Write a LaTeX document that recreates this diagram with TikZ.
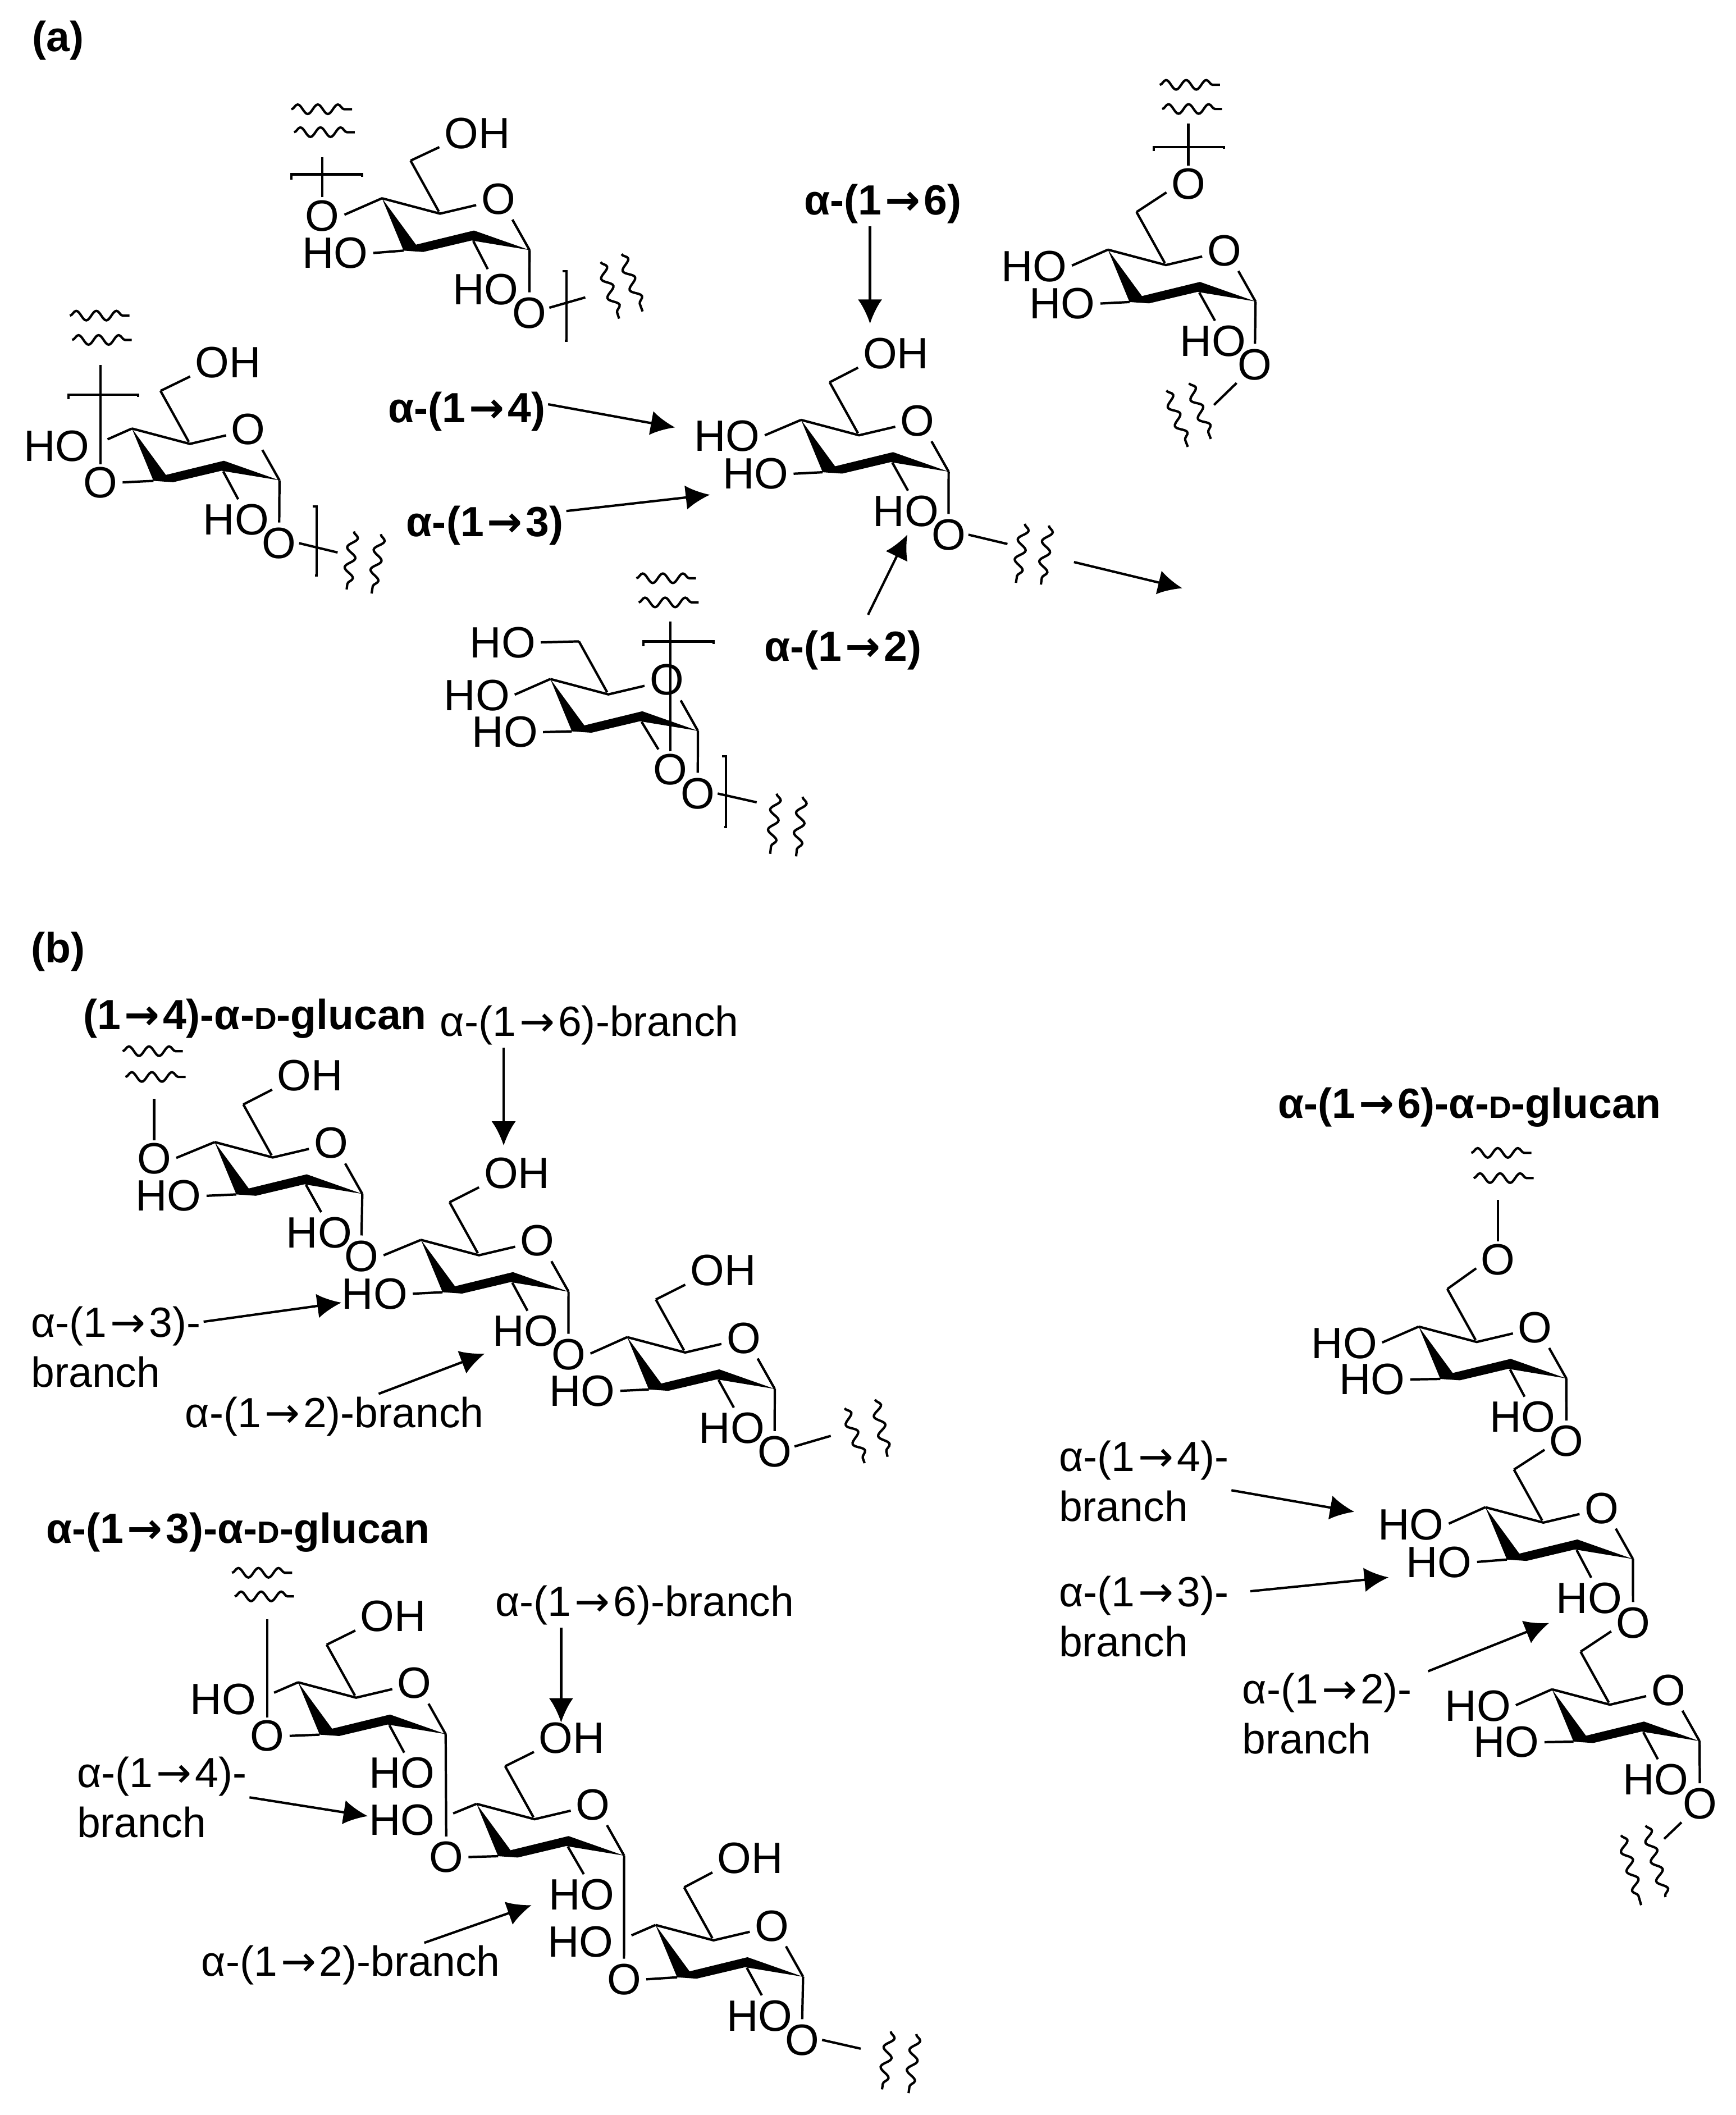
\documentclass[tikz,border=0pt]{standalone}
\usepackage{fontspec}
\setmainfont{Liberation Sans}
\newfontfamily\arrowglyph{DejaVu Sans}
\usetikzlibrary{arrows.meta,decorations.pathmorphing}
\tikzset{
  atom/.style={font=\fontsize{18.5}{20}\selectfont, inner sep=1pt, yshift=-0.4pt},
  grouplabel/.style={font=\fontsize{17.8}{21}\selectfont\bfseries, inner sep=1pt},
  branchlabel/.style={font=\fontsize{17.8}{21}\selectfont, inner sep=1pt, align=left},
  bond/.style={line width=1pt, shorten >=1pt},
  wavy/.style={line width=1pt, decorate, decoration={snake, amplitude=2pt, segment length=8.5pt, pre length=0pt, post length=0pt}},
  linkarrow/.style={line width=1pt, -{Latex[length=0.36cm,width=0.36cm]}},
  crossgap/.style={shorten >=7pt},
  pics/glcring/.style={code={
    \coordinate (-c5) at (0,0);
    \coordinate (-c4) at (-43,-11.4);
    \coordinate (-c3) at (-27,27.4);
    \coordinate (-c2) at (24.7,20.4);
    \coordinate (-c1) at (66.4,27);
    \coordinate (-c6) at (-21.8,-39.3);
    \node[atom] (-o5) at (43.3,-11.4) {O};
    \fill (-c4) -- (-17.8,23) -- (25.2,12.5) -- (-c1) -- (23.4,19.9) -- (-12.5,28.4) -- (-c3) -- cycle;
    \draw[bond] (-c4) -- (-c5) -- (-o5.195);
    \draw[bond] (-c1) -- (-o5.-55);
    \draw[bond] (-c6) -- (-c5);
  }}
}
\newcommand{\smalld}{{\fontsize{13}{13}\selectfont D}}
\newcommand{\linkto}{\hspace{.08em}{\arrowglyph→}\hspace{.08em}}
\begin{document}
\begin{tikzpicture}[x=0.02cm,y=-0.02cm]
\useasboundingbox (0,0) rectangle (1287,1568);
% panel letters
\node[grouplabel] (pa) at (43,30) {(a)};
\node[grouplabel] (pb) at (43,705.5) {(b)};
% rings of panel a
\pic (a1) at (326.2,158.4) {glcring};
\node[atom] (a1o6) at (353.8,98) {OH};
\node[atom] (a1o4) at (239,159.2) {O};
\node[atom] (a1o3) at (248.5,187) {HO};
\node[atom] (a1o2) at (360,214) {HO};
\node[atom] (a1o1) at (392.5,231.4) {O};
\pic (a2) at (140.8,329.1) {glcring};
\node[atom] (a2o6) at (169,268) {OH};
\node[atom] (a2o4) at (42,330) {HO};
\node[atom] (a2o3) at (74.4,357) {O};
\node[atom] (a2o2) at (175,384.6) {HO};
\node[atom] (a2o1) at (207,402) {O};
\pic (a3) at (636.9,322.7) {glcring};
\node[atom] (a3o6) at (664.2,261.4) {OH};
\node[atom] (a3o4) at (538.9,322.7) {HO};
\node[atom] (a3o3) at (560.1,350.6) {HO};
\node[atom] (a3o2) at (671.6,378.2) {HO};
\node[atom] (a3o1) at (703.2,395.7) {O};
\pic (a4) at (451,514.8) {glcring};
\node[atom] (a4o6) at (372.7,475.6) {HO};
\node[atom] (a4o4) at (353.5,515) {HO};
\node[atom] (a4o3) at (374.3,542.1) {HO};
\node[atom] (a4o2) at (496.9,570) {O};
\node[atom] (a4o1) at (517.3,587.6) {O};
\pic (a5) at (864.4,196.5) {glcring};
\node[atom] (a5o6) at (881,135.6) {O};
\node[atom] (a5o4) at (766.6,196.9) {HO};
\node[atom] (a5o3) at (787.6,224.4) {HO};
\node[atom] (a5o2) at (899.2,252.2) {HO};
\node[atom] (a5o1) at (930.4,269.6) {O};
% 1-4 chain
\pic (f1) at (202.2,858.1) {glcring};
\node[atom] (f1o6) at (229.8,796.7) {OH};
\node[atom] (f1o4) at (114.3,858.4) {O};
\node[atom] (f1o3) at (124.9,885.9) {HO};
\node[atom] (f1o2) at (236.6,913.1) {HO};
\node[atom, alias=f2o4] (f1o1) at (268,930.6) {O};
\pic (f2) at (355.1,930.6) {glcring};
\node[atom] (f2o6) at (383.2,869.1) {OH};
\node[atom] (f2o3) at (277.8,958.5) {HO};
\node[atom] (f2o2) at (389.5,986.2) {HO};
\node[atom, alias=f3o4] (f2o1) at (421.4,1003.5) {O};
\pic (f3) at (508,1002.7) {glcring};
\node[atom] (f3o6) at (536.1,941.3) {OH};
\node[atom] (f3o3) at (431.6,1030.5) {HO};
\node[atom] (f3o2) at (542.5,1058) {HO};
\node[atom] (f3o1) at (574.3,1075.6) {O};
% 1-3 chain
\pic (t1) at (264,1258.6) {glcring};
\node[atom] (t1o6) at (291.5,1197.7) {OH};
\node[atom] (t1o4) at (165.4,1259.1) {HO};
\node[atom] (t1o3) at (198.2,1286.3) {O};
\node[atom] (t1o2) at (298.1,1313.8) {HO};
\node[atom, alias=t2o3] (t1o1) at (330.8,1376.1) {O};
\pic (t2) at (396.3,1348.7) {glcring};
\node[atom] (t2o6) at (423.9,1287.7) {OH};
\node[atom] (t2o4) at (298.1,1348.4) {HO};
\node[atom] (t2o2) at (431.3,1403.9) {HO};
\node[atom, alias=t3o3] (t2o1) at (462.6,1466.8) {O};
\pic (t3) at (529,1438.5) {glcring};
\node[atom] (t3o6) at (556.2,1377) {OH};
\node[atom] (t3o4) at (430.4,1439) {HO};
\node[atom] (t3o2) at (563.2,1493.7) {HO};
\node[atom] (t3o1) at (594.7,1511.6) {O};
% 1-6 chain
\pic (s1) at (1094.8,994.9) {glcring};
\node[atom] (s1o6) at (1110.6,933.2) {O};
\node[atom] (s1o4) at (996.6,995.3) {HO};
\node[atom] (s1o3) at (1017.3,1022) {HO};
\node[atom] (s1o2) at (1128.7,1049.9) {HO};
\node[atom, alias=s2o6] (s1o1) at (1161.3,1067.8) {O};
\pic (s2) at (1144.2,1128.8) {glcring};
\node[atom] (s2o4) at (1046,1129.6) {HO};
\node[atom] (s2o3) at (1066.8,1157.4) {HO};
\node[atom] (s2o2) at (1178.1,1184.1) {HO};
\node[atom, alias=s3o6] (s2o1) at (1210.7,1202.4) {O};
\pic (s3) at (1193.6,1263.8) {glcring};
\node[atom] (s3o4) at (1095.7,1264.2) {HO};
\node[atom] (s3o3) at (1116.8,1290.9) {HO};
\node[atom] (s3o2) at (1227.5,1318.7) {HO};
\node[atom] (s3o1) at (1260.2,1336.7) {O};
% bonds to the atoms
\foreach \gl in {a1,a2,a3,a4,a5,f1,f2,f3,t1,t2,t3,s1,s2,s3}{
  \draw[bond] (\gl-c3) -- (\gl o3.east);
  \draw[bond] (\gl-c1) -- (\gl o1.north);
}
\foreach \gl in {a1,a2,a3,a5,f1,f2,f3,t1,t2,t3,s1,s2,s3}{
  \draw[bond] (\gl-c2) -- (\gl o2.80);
}
\foreach \gl in {a1,a3,a4,a5,f1,f2,f3,s1,s2,s3}{
  \draw[bond] (\gl-c4) -- (\gl o4.east);
}
\foreach \gl in {a2,t1,t2,t3}{
  \draw[bond,crossgap] (\gl-c4) -- (\gl o4.east);
}
\foreach \gl in {a1,a2,a3,a5,f1,f2,f3,t1,t2,t3,s1,s2,s3}{
  \draw[bond] (\gl-c6) -- (\gl o6.200);
}
\draw[bond] (a4-c6) -- (a4o6.east);
\draw[bond] (a4-c2) -- (a4o2.120);
% chain ends
\coordinate (a1up) at (239,114.6);
\coordinate (a1out) at (435.6,220);
\draw[bond] (a1o4.north) -- (a1up);
\draw[bond] (a1o1.15) -- (a1out);
\draw[bond] (216,133) -- (216,129.2) -- (268.6,129.2) -- (268.6,133);
\draw[bond] (417,201) -- (420,201) -- (420,252.7) -- (417,252.7);
\draw[wavy] (216,81) -- (261,81);
\draw[wavy] (218,98) -- (263,98);
\draw[wavy] (445.3,194.3) -- (459,236.2);
\draw[wavy] (460.8,188.4) -- (476.4,230.9);
\coordinate (a2up) at (74.4,269);
\coordinate (a2out) at (252,410);
\draw[bond] (a2o3.north) -- (a2up);
\draw[bond] (a2o1.east) -- (a2out);
\draw[bond] (50.7,296) -- (50.7,292.5) -- (102.5,292.5) -- (102.5,296);
\draw[bond] (231.7,375.3) -- (234.7,375.3) -- (234.7,426.6) -- (231.7,426.6);
\draw[wavy] (51.8,234) -- (96,234);
\draw[wavy] (53.5,252) -- (97.7,252);
\draw[wavy] (262.4,394) -- (257,437);
\draw[wavy] (282.4,396) -- (275.5,440);
\coordinate (a3out) at (748.6,403.7);
\draw[bond] (a3o1.east) -- (a3out);
\draw[wavy] (759.8,388.3) -- (753.2,432.1);
\draw[wavy] (777.6,389.6) -- (771.7,433.4);
\coordinate (a4up) at (496.9,459);
\coordinate (a4out) at (562.7,595.2);
\draw[bond] (a4o2.north) -- (a4up);
\draw[bond] (a4o1.east) -- (a4out);
\draw[bond] (477,479) -- (477,475.6) -- (529.2,475.6) -- (529.2,479);
\draw[bond] (535.3,560.8) -- (538.3,560.8) -- (538.3,613) -- (535.3,613);
\draw[wavy] (471.8,428.7) -- (516,428.7);
\draw[wavy] (473.5,446.6) -- (518,446.6);
\draw[wavy] (575.8,588.4) -- (571,633);
\draw[wavy] (595,590.7) -- (590.2,634.9);
\coordinate (a5up) at (881,90);
\coordinate (a5out) at (898.8,301.4);
\draw[bond] (a5o6.north) -- (a5up);
\draw[bond] (a5o1.-135) -- (a5out);
\draw[bond] (855.5,112) -- (855.5,108.9) -- (907.5,108.9) -- (907.5,112);
\draw[wavy] (859.8,62.9) -- (904.4,62.9);
\draw[wavy] (861.6,80.8) -- (906,80.8);
\draw[wavy] (864.8,289.5) -- (880.6,331.3);
\draw[wavy] (881.5,284.1) -- (897.7,325.4);
\coordinate (f1up) at (114.3,812.7);
\coordinate (f3out) at (617.6,1064);
\draw[bond] (f1o4.north) -- (f1up);
\draw[bond] (f3o1.15) -- (f3out);
\draw[wavy] (90.9,779.3) -- (135.5,779.3);
\draw[wavy] (93,798.4) -- (137.6,798.4);
\draw[wavy] (626.2,1044) -- (641,1084.7);
\draw[wavy] (648.7,1037.6) -- (658,1080);
\coordinate (t1up) at (198.2,1198.5);
\coordinate (t3out) at (639.8,1519.2);
\draw[bond] (t1o3.north) -- (t1up);
\draw[bond] (t3o1.east) -- (t3out);
\draw[wavy] (172,1166) -- (216.6,1166);
\draw[wavy] (174,1183.5) -- (218,1183.5);
\draw[wavy] (660.4,1506) -- (653.9,1549);
\draw[wavy] (679.3,1508) -- (673.6,1551.8);
\coordinate (s1up) at (1110.6,887.8);
\coordinate (s3out) at (1232.5,1364.5);
\draw[bond] (s1o6.north) -- (s1up);
\draw[bond] (s3o1.-135) -- (s3out);
\draw[wavy] (1090.8,854.7) -- (1135.3,854.7);
\draw[wavy] (1092.5,873.4) -- (1137,873.4);
\draw[wavy] (1201.8,1360.6) -- (1216.7,1412.4);
\draw[wavy] (1220,1353.4) -- (1234.8,1406.4);
% labels of panel a
\node[grouplabel] (l16) at (654.5,151) {α-(1\linkto 6)};
\node[grouplabel] (l14) at (346,305) {α-(1\linkto 4)};
\node[grouplabel] (l13) at (359.5,389.5) {α-(1\linkto 3)};
\node[grouplabel] (l12) at (624.9,481.9) {α-(1\linkto 2)};
\coordinate (t16) at (645,240);
\coordinate (t14) at (500.5,316.9);
\coordinate (t13) at (526.4,366.8);
\coordinate (t12) at (672.7,396.3);
\coordinate (gofrom) at (796.2,416.7);
\coordinate (goto) at (876.6,436.1);
\draw[linkarrow] (l16.south -| t16) -- (t16);
\draw[linkarrow] (l14.5) -- (t14);
\draw[linkarrow] (l13.10) -- (t13);
\draw[linkarrow,shorten <=6pt] (l12.50) -- (t12);
\draw[linkarrow] (gofrom) -- (goto);
% labels of panel b
\node[grouplabel] (f0) at (189,755) {(1\linkto 4)-α-\smalld-glucan};
\node[branchlabel] (f16) at (437,760) {α-(1\linkto 6)-branch};
\node[branchlabel,anchor=west] (f13) at (21,998.5) {α-(1\linkto 3)-\\branch};
\node[branchlabel] (f12) at (248,1050) {α-(1\linkto 2)-branch};
\coordinate (tf16) at (373.4,849.3);
\coordinate (tf13) at (253.2,965.7);
\coordinate (tf12) at (359.4,1003.5);
\draw[linkarrow] (f16.south -| tf16) -- (tf16);
\draw[linkarrow] (f13.16) -- (tf13);
\draw[linkarrow] (f12.27) -- (tf12);
\node[grouplabel] (t0) at (176.5,1136) {α-(1\linkto 3)-α-\smalld-glucan};
\node[branchlabel] (t16) at (478,1190) {α-(1\linkto 6)-branch};
\node[branchlabel,anchor=west] (t14) at (55,1332.5) {α-(1\linkto 4)-\\branch};
\node[branchlabel] (t12) at (260,1457) {α-(1\linkto 2)-branch};
\coordinate (tt16) at (416,1277);
\coordinate (tt14) at (272.7,1346.4);
\coordinate (tt12) at (394.1,1412.4);
\draw[linkarrow] (t16.south -| tt16) -- (tt16);
\draw[linkarrow] (t14.east) -- (tt14);
\draw[linkarrow] (t12.17) -- (tt12);
\node[grouplabel] (s0) at (1089.5,821) {α-(1\linkto 6)-α-\smalld-glucan};
\node[branchlabel,anchor=west] (s14) at (783,1098) {α-(1\linkto 4)-\\branch};
\node[branchlabel,anchor=west] (s13) at (783,1198.5) {α-(1\linkto 3)-\\branch};
\node[branchlabel,anchor=west] (s12) at (919,1270.5) {α-(1\linkto 2)-\\branch};
\coordinate (ts14) at (1004.1,1120.8);
\coordinate (ts13) at (1029.5,1169.4);
\coordinate (ts12) at (1148.5,1203.2);
\draw[linkarrow] (s14.-6) -- (ts14);
\draw[linkarrow,shorten <=8pt] (s13.15) -- (ts13);
\draw[linkarrow,shorten <=6pt] (s12.23) -- (ts12);
\end{tikzpicture}
\end{document}
